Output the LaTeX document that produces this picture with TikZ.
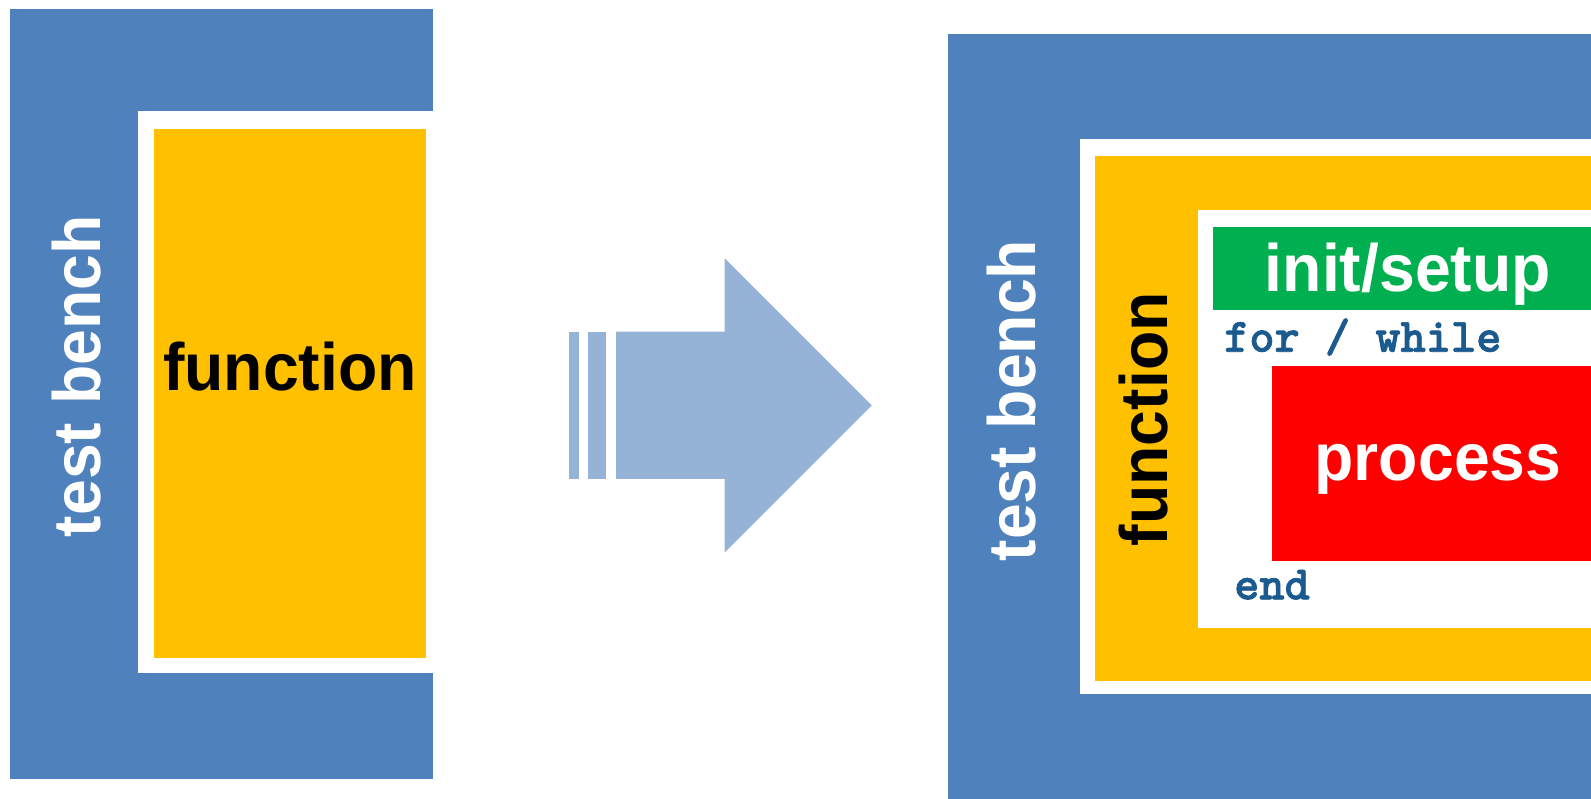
\documentclass[tikz,border=0pt]{standalone}
\usepackage{fontspec}
\newfontfamily\labelfont[FakeStretch=0.96]{Liberation Sans}
\newfontfamily\codefont[FakeBold=1.5]{lmmonolt10-bold.otf}
\definecolor{benchblue}{HTML}{4F81BD}
\definecolor{funcyellow}{HTML}{FFC000}
\definecolor{initgreen}{HTML}{00B050}
\definecolor{procred}{HTML}{FF0000}
\definecolor{arrowblue}{HTML}{95B3D7}
\definecolor{codeblue}{HTML}{1B5A8E}
\begin{document}
\begin{tikzpicture}[x=1pt,y=-1pt,
  bigtext/.style={inner sep=0pt, anchor=base,
    font=\labelfont\bfseries\fontsize{67}{67}\selectfont},
  looptext/.style={inner sep=0pt, anchor=base west, text=codeblue,
    font=\codefont\fontsize{48}{48}\selectfont}]
  % canvas
  \fill[white] (0,0) rectangle (1591,799);
  \useasboundingbox (0,0) rectangle (1591,799);

  % ---- left: test bench wrapping a function ----
  \fill[benchblue] (10.1,9) rectangle (433.3,779.3);
  \fill[white] (138,110.6) rectangle (433.3,672.7);
  \fill[funcyellow] (154.2,128.9) rectangle (426.2,657.5);
  \node[bigtext, text=white, rotate=90] (tbleft) at (100,376.2) {test bench};
  \node[bigtext, text=black] (fnleft) at (290,391) {function};

  % ---- transition arrow ----
  \fill[arrowblue] (569.3,331.7) rectangle (579,479);
  \fill[arrowblue] (588.3,331.7) rectangle (606.3,479);
  \fill[arrowblue] (616,331.7) -- (724.7,331.7) -- (724.7,258.3)
    -- (871.7,405.3) -- (724.7,552.3) -- (724.7,479) -- (616,479) -- cycle;

  % ---- right: test bench, function, loop with init and process ----
  \fill[benchblue] (947.7,33.6) rectangle (1591,799);
  \fill[white] (1080,139) rectangle (1591,694);
  \fill[funcyellow] (1095,156) rectangle (1591,681);
  \fill[white] (1198.3,210) rectangle (1591,628);
  \fill[initgreen] (1213,227.5) rectangle (1591,310.5);
  \fill[procred] (1271.5,366) rectangle (1591,560.5);

  \node[bigtext, text=white, rotate=90] (tbright) at (1035.7,400.5) {test bench};
  \node[bigtext, text=black, rotate=90] (fnright) at (1167,419.2) {function};
  \node[bigtext, text=white] (init) at (1407.8,291.7) {init/setup};
  \node[bigtext, text=white] (proc) at (1438,481) {process};
  \node[looptext] (loop) at (1224,351.7) {for / while};
  \node[looptext] (loopend) at (1234,599.3) {end};
\end{tikzpicture}
\end{document}
